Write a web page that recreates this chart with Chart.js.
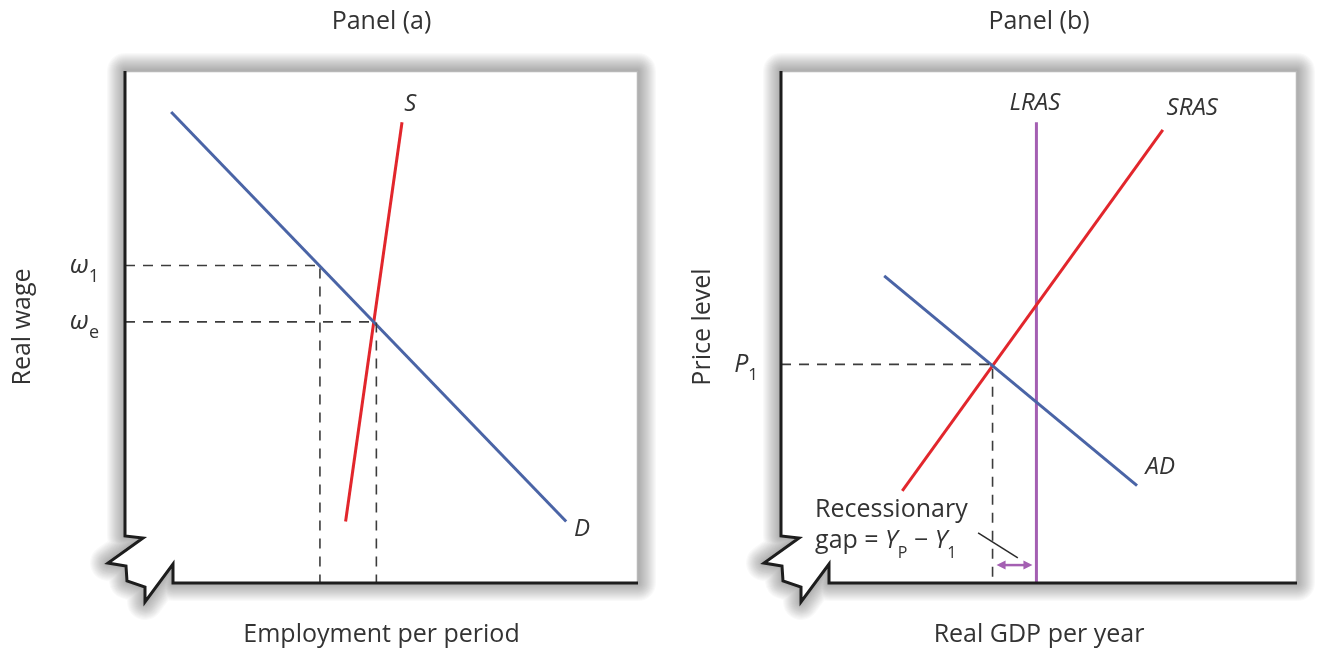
<!DOCTYPE html>
<html><head><meta charset="utf-8">
<script src="https://cdn.jsdelivr.net/npm/chart.js@4"></script>
<style>
html,body{margin:0;padding:0;background:#fff;}
#wrap{position:relative;width:1331px;height:651px;overflow:hidden;background:#fff;}
canvas{position:absolute;top:0;}
#ca{left:0;} #cb{left:665px;}
</style></head><body>
<div id="wrap"><canvas id="ca" width="665" height="651"></canvas><canvas id="cb" width="666" height="651"></canvas></div>
<script>
// ---------- Panel (a): labour market ----------
const demandX = [9, 86];
const demandY = [92, 12];
const supplyX = [54, 43];
const supplyY = [90, 12];
const wageLevels = [62, 51];          // ω1, ωe
const wageSubs = ['1', 'e'];
const employmentAtWage = [38, 49];

// ---------- Panel (b): AD / AS ----------
const srasX = [23.5, 74];
const srasY = [18, 88.5];
const adX = [20, 69];
const adY = [60, 19];
const lrasX = [49.5, 49.5];
const lrasY = [0, 90];
const priceLevels = [42.7];           // P1
const priceSubs = ['1'];
const gdpAtPrice = [41];              // Y1

// labels (text and anchor in data units)
const curveLabelsA = [{text: 'S', x: 55.6, y: 93.6}, {text: 'D', x: 89.1, y: 10.6}];
const curveLabelsB = [{text: 'LRAS', x: 49.2, y: 93.8}, {text: 'SRAS', x: 79.7, y: 92.8}, {text: 'AD', x: 73.5, y: 22.7}];
const gapText = {x: 6.6, y1: 12.9, y2: 6.8};
const gapLeader = {x1: 38.2, y1: 9.8, x2: 45.9, y2: 4.9};
const gapArrowLevel = 3.5;

const FONT = '"Open Sans", "Noto Sans", sans-serif';
const TEXT = '#333333';
const BLUE = '#4a64a6';
const RED = '#e2262c';
const PURPLE = '#a45fb2';
const DASH = '#3c3c3c';

function pts(xs, ys) { return xs.map((x, i) => ({x: x, y: ys[i]})); }
function lineDs(xs, ys, color, width, dash) {
  return {data: pts(xs, ys), showLine: true, borderColor: color, borderWidth: width,
    borderDash: dash || [], pointRadius: 0, fill: false, tension: 0, borderCapStyle: 'butt'};
}

function rich(ctx, x, y, parts, align) {
  let w = 0;
  parts.forEach(p => { ctx.font = p[1]; w += ctx.measureText(p[0]).width; });
  let cx = align === 'right' ? x - w : (align === 'center' ? x - w / 2 : x);
  ctx.textAlign = 'left';
  parts.forEach(p => { ctx.font = p[1]; ctx.fillText(p[0], cx, y + (p[2] || 0)); cx += ctx.measureText(p[0]).width; });
}

function framePoints(a) {
  const L = a.left, T = a.top, R = a.right, B = a.bottom;
  return [[L, T], [R, T], [R, B], [L + 48, B], [L + 48, B - 19], [L + 20, B + 19], [L + 20, B + 4],
    [L + 2, B - 2], [L + 1, B - 17], [L - 17, B - 20], [L + 18, B - 45], [L, B - 47]];
}
function framePath(ctx, p) {
  ctx.beginPath();
  p.forEach((q, i) => i ? ctx.lineTo(q[0], q[1]) : ctx.moveTo(q[0], q[1]));
  ctx.closePath();
}
function drawFrame(chart) {
  const ctx = chart.ctx, a = chart.chartArea;
  const p = framePoints(a);
  ctx.save();
  ctx.lineJoin = 'round';
  for (let i = 18; i >= 1; i--) {
    ctx.strokeStyle = 'rgba(0,0,0,0.022)';
    ctx.lineWidth = 2 * i;
    framePath(ctx, p);
    ctx.stroke();
  }
  framePath(ctx, p);
  ctx.fillStyle = '#ffffff';
  ctx.fill();
  ctx.strokeStyle = '#b8b8b8';
  ctx.lineWidth = 1.5;
  ctx.beginPath();
  ctx.moveTo(a.left, a.top + 0.5);
  ctx.lineTo(a.right - 0.5, a.top + 0.5);
  ctx.lineTo(a.right - 0.5, a.bottom);
  ctx.stroke();
  ctx.restore();
}
function drawAxes(chart) {
  const ctx = chart.ctx, a = chart.chartArea;
  const L = a.left, T = a.top, R = a.right, B = a.bottom;
  const p = [[L, T], [L, B - 47], [L + 18, B - 45], [L - 17, B - 20], [L + 1, B - 17], [L + 2, B - 2],
    [L + 20, B + 4], [L + 20, B + 19], [L + 48, B - 19], [L + 48, B], [R, B]];
  ctx.save();
  ctx.strokeStyle = '#1d1d1d';
  ctx.lineWidth = 3;
  ctx.lineJoin = 'miter';
  ctx.beginPath();
  p.forEach((q, i) => i ? ctx.lineTo(q[0], q[1]) : ctx.moveTo(q[0], q[1]));
  ctx.stroke();
  ctx.restore();
}
function drawCurveLabels(chart, labels) {
  const ctx = chart.ctx, x = chart.scales.x, y = chart.scales.y;
  ctx.save();
  ctx.fillStyle = TEXT;
  ctx.textAlign = 'center';
  ctx.textBaseline = 'middle';
  ctx.font = 'italic 24px ' + FONT;
  labels.forEach(l => ctx.fillText(l.text, x.getPixelForValue(l.x), y.getPixelForValue(l.y)));
  ctx.restore();
}

function baseOptions(cfg) {
  const f = {family: FONT, size: 25, weight: 'normal'};
  return {
    responsive: false, animation: false, devicePixelRatio: 1,
    layout: {padding: {left: 0, right: cfg.padRight, top: 0, bottom: 0}},
    plugins: {
      legend: {display: false}, tooltip: {enabled: false},
      title: {display: true, fullSize: false, text: cfg.title, color: TEXT, font: f, padding: {top: 7, bottom: 34}}
    },
    scales: {
      x: {type: 'linear', min: 0, max: 100, grid: {display: false, drawTicks: false}, border: {display: false},
        ticks: {display: false},
        title: {display: true, text: cfg.xTitle, color: TEXT, font: f, padding: {top: 0, bottom: 1}},
        afterFit: s => { s.height = 68; }},
      y: {type: 'linear', min: 0, max: 100, grid: {display: false, drawTicks: false}, border: {display: false},
        ticks: {display: false},
        title: {display: true, text: cfg.yTitle, color: TEXT, font: f, padding: {top: cfg.yTitlePad, bottom: 0}},
        afterFit: s => { s.width = cfg.left; }}
    }
  };
}

// ---------- Chart A ----------
const dsA = [];
wageLevels.forEach((w, i) => {
  dsA.push(lineDs([0, employmentAtWage[i], employmentAtWage[i]], [w, w, 0], DASH, 1.6, [10, 8]));
});
dsA.push(lineDs(demandX, demandY, BLUE, 3));
dsA.push(lineDs(supplyX, supplyY, RED, 3));

const pluginA = {
  id: 'econA',
  beforeDraw(chart) { drawFrame(chart); },
  afterDatasetsDraw(chart) {
    drawAxes(chart);
    const ctx = chart.ctx, y = chart.scales.y, L = chart.chartArea.left;
    ctx.save();
    ctx.fillStyle = TEXT;
    ctx.textBaseline = 'alphabetic';
    wageLevels.forEach((w, i) => {
      const py = y.getPixelForValue(w);
      rich(ctx, L - 26, py + 7, [['ω', 'italic 26px ' + FONT, 0], [wageSubs[i], '18px ' + FONT, 9]], 'right');
    });
    ctx.restore();
    drawCurveLabels(chart, curveLabelsA);
  }
};

new Chart(document.getElementById('ca'), {
  type: 'scatter',
  data: {datasets: dsA},
  options: baseOptions({title: 'Panel (a)', xTitle: 'Employment per period', yTitle: 'Real wage',
    padRight: 27, left: 125, yTitlePad: 8}),
  plugins: [pluginA]
});

// ---------- Chart B ----------
const dsB = [];
priceLevels.forEach((p, i) => {
  dsB.push(lineDs([0, gdpAtPrice[i], gdpAtPrice[i]], [p, p, 0], DASH, 1.6, [10, 8]));
});
dsB.push(lineDs(adX, adY, BLUE, 3));
dsB.push(lineDs(srasX, srasY, RED, 3));
dsB.push(lineDs(lrasX, lrasY, PURPLE, 3));

const pluginB = {
  id: 'econB',
  beforeDraw(chart) { drawFrame(chart); },
  afterDatasetsDraw(chart) {
    drawAxes(chart);
    const ctx = chart.ctx, x = chart.scales.x, y = chart.scales.y, L = chart.chartArea.left;
    ctx.save();
    ctx.fillStyle = TEXT;
    ctx.textBaseline = 'alphabetic';
    priceLevels.forEach((p, i) => {
      const py = y.getPixelForValue(p);
      rich(ctx, L - 23, py + 8, [['P', 'italic 25px ' + FONT, 0], [priceSubs[i], '17px ' + FONT, 8]], 'right');
    });
    // recessionary gap text
    const tx = x.getPixelForValue(gapText.x);
    rich(ctx, tx, y.getPixelForValue(gapText.y1), [['Recessionary', '25px ' + FONT, 0]], 'left');
    rich(ctx, tx, y.getPixelForValue(gapText.y2), [
      ['gap = ', '25px ' + FONT, 0], ['Y', 'italic 25px ' + FONT, 0], ['P', '16px ' + FONT, 10],
      [' \u2212 ', '25px ' + FONT, 0], ['Y', 'italic 25px ' + FONT, 0], ['1', '16px ' + FONT, 10]], 'left');
    // leader line
    ctx.strokeStyle = '#2a2a2a';
    ctx.lineWidth = 1.5;
    ctx.beginPath();
    ctx.moveTo(x.getPixelForValue(gapLeader.x1), y.getPixelForValue(gapLeader.y1));
    ctx.lineTo(x.getPixelForValue(gapLeader.x2), y.getPixelForValue(gapLeader.y2));
    ctx.stroke();
    // double arrow between Y1 and YP
    const ax1 = x.getPixelForValue(gdpAtPrice[0]) + 4, ax2 = x.getPixelForValue(lrasX[0]) - 4;
    const ay = y.getPixelForValue(gapArrowLevel);
    ctx.strokeStyle = PURPLE; ctx.fillStyle = PURPLE; ctx.lineWidth = 2.5;
    ctx.beginPath(); ctx.moveTo(ax1 + 6, ay); ctx.lineTo(ax2 - 6, ay); ctx.stroke();
    ctx.beginPath(); ctx.moveTo(ax1, ay); ctx.lineTo(ax1 + 9, ay - 4.5); ctx.lineTo(ax1 + 9, ay + 4.5); ctx.closePath(); ctx.fill();
    ctx.beginPath(); ctx.moveTo(ax2, ay); ctx.lineTo(ax2 - 9, ay - 4.5); ctx.lineTo(ax2 - 9, ay + 4.5); ctx.closePath(); ctx.fill();
    ctx.restore();
    drawCurveLabels(chart, curveLabelsB);
  }
};

new Chart(document.getElementById('cb'), {
  type: 'scatter',
  data: {datasets: dsB},
  options: baseOptions({title: 'Panel (b)', xTitle: 'Real GDP per year', yTitle: 'Price level',
    padRight: 34, left: 116, yTitlePad: 23}),
  plugins: [pluginB]
});
</script>
</body></html>
